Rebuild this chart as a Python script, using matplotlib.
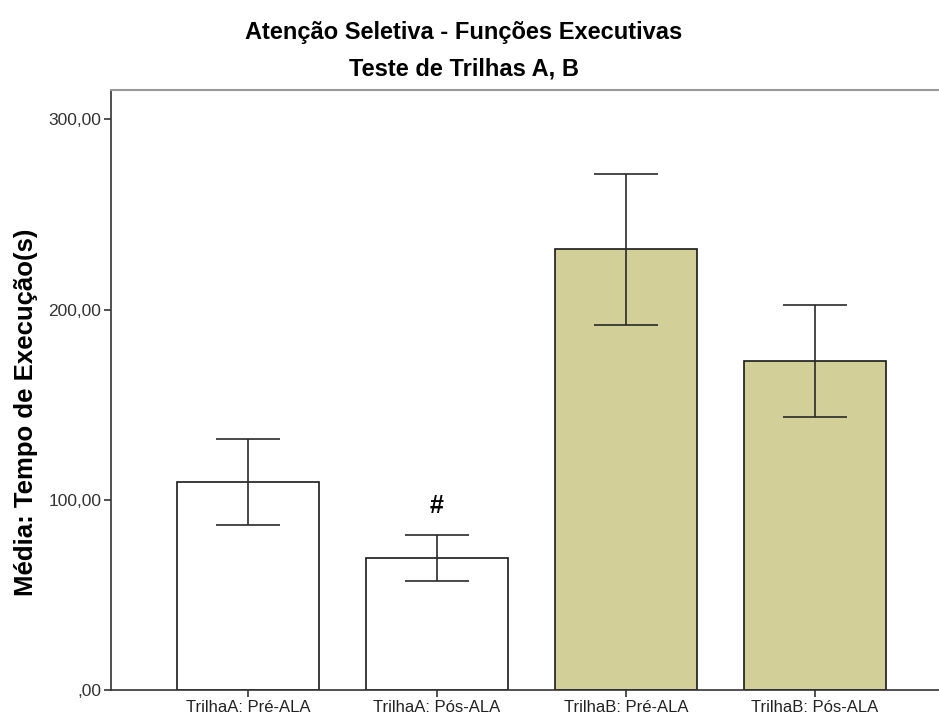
"""
Trail Making Test A/B: mean execution time before and after ALA.
"""
import matplotlib
matplotlib.use("Agg")
import matplotlib.pyplot as plt
import numpy as np

plt.rcParams["font.family"] = ["Liberation Sans", "DejaVu Sans"]

LABELS   = ["TrilhaA: Pré-ALA", "TrilhaA: Pós-ALA", "TrilhaB: Pré-ALA", "TrilhaB: Pós-ALA"]
MEANS    = [109.5, 69.6, 231.7, 173.0]
ERR_LOW  = [86.6, 57.5, 192.1, 143.7]
ERR_HIGH = [132.0, 81.7, 271.3, 202.3]
COLORS   = ["white", "white", "#D3CF98", "#D3CF98"]
YTICKS   = [0, 100, 200, 300]
YTICK_LABELS = [",00", "100,00", "200,00", "300,00"]

fig = plt.figure(figsize=(9.39, 7.22), dpi=100)
# plot area runs slightly past the right edge of the figure
ax = fig.add_axes([111 / 939, 32 / 722, 841 / 939, 600 / 722])

x = np.arange(len(LABELS))
means = np.array(MEANS)
yerr = [means - np.array(ERR_LOW), np.array(ERR_HIGH) - means]
ax.bar(x, means, width=0.75, color=COLORS, edgecolor="#1a1a1a", linewidth=1.2, zorder=2)
ax.errorbar(x, means, yerr=yerr, fmt="none", ecolor="#2a2a2a", elinewidth=1.2,
            capsize=23, capthick=1.2, zorder=3)

# significance mark over TrilhaA post
ax.text(1, ERR_HIGH[1] + 9, "#", ha="center", va="bottom", fontsize=18, fontweight="bold")

ax.set_xlim(-0.725, 3.725)
ax.set_ylim(0, 315.5)
ax.set_xticks(x)
ax.set_xticklabels(LABELS, fontsize=12, color="#222222")
ax.set_yticks(YTICKS)
ax.set_yticklabels(YTICK_LABELS, fontsize=12.5, color="#333333")
ax.tick_params(axis="both", direction="out", length=5, width=1.2, color="#333333", pad=2)
ax.set_ylabel("Média: Tempo de Execução(s)", fontsize=18.5, fontweight="bold")
ax.yaxis.set_label_coords(-0.087, 0.463)

ax.spines["right"].set_visible(False)
ax.spines["top"].set_color("#999999")
ax.spines["top"].set_linewidth(1.5)
for s in ("left", "bottom"):
    ax.spines[s].set_color("#333333")
    ax.spines[s].set_linewidth(1.2)

fig.text(464 / 939, 1 - 33 / 722, "Atenção Seletiva - Funções Executivas",
         ha="center", va="center", fontsize=17, fontweight="bold")
fig.text(464 / 939, 1 - 69 / 722, "Teste de Trilhas A, B",
         ha="center", va="center", fontsize=17, fontweight="bold")

fig.savefig("out.png", dpi=100)
